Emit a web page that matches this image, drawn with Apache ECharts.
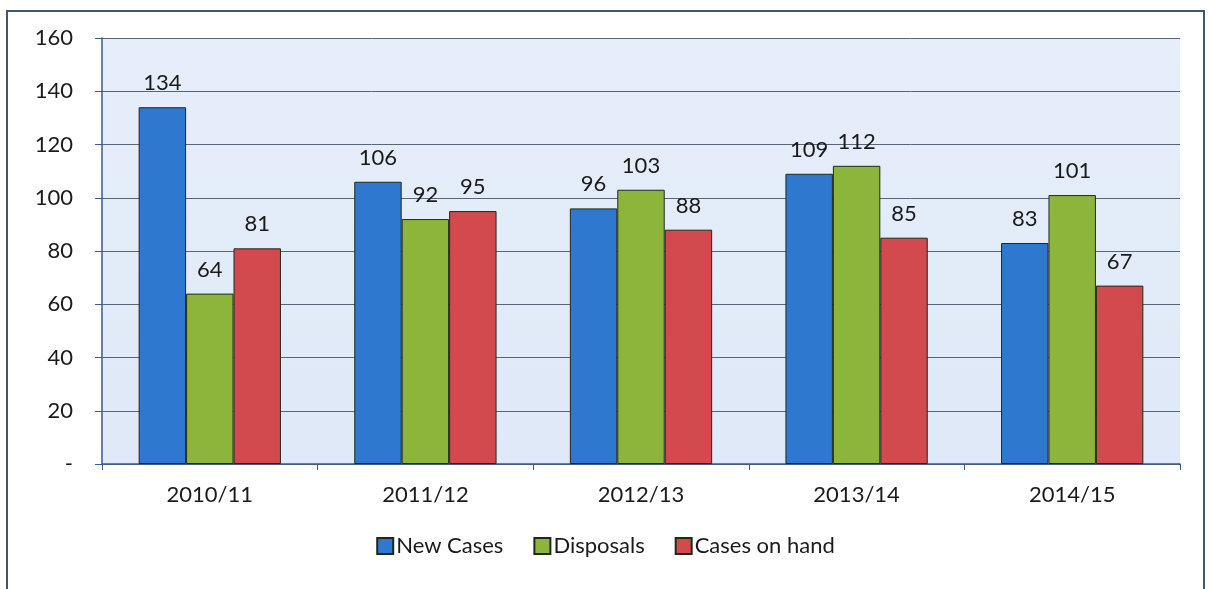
<!DOCTYPE html>
<html>
<head>
<meta charset="utf-8">
<script src="https://cdn.jsdelivr.net/npm/echarts@6/dist/echarts.min.js"></script>
<style>
  html, body { margin: 0; padding: 0; background: #fff; }
  #chart { width: 1211px; height: 589px; }
</style>
</head>
<body>
<div id="chart"></div>
<script>
// data
const years = ['2010/11', '2011/12', '2012/13', '2013/14', '2014/15'];
const newCases = [134, 106, 96, 109, 83];
const disposals = [64, 92, 103, 112, 101];
const casesOnHand = [81, 95, 88, 85, 67];
const seriesNames = ['New Cases', 'Disposals', 'Cases on hand'];
const seriesColors = ['#2f78d0', '#8db53c', '#d34a4e'];

const chart = echarts.init(document.getElementById('chart'));

const font = 'Lato, "Open Sans", sans-serif';

function barSeries(name, data, color) {
    return {
        name: name,
        type: 'bar',
        data: data,
        barGap: '0%',
        barCategoryGap: '34%',
        itemStyle: {
            color: color,
            borderColor: '#1d2a1a',
            borderWidth: 1
        },
        label: {
            show: true,
            position: 'top',
            distance: 13,
            color: '#1a1a1a',
            fontSize: 22,
            fontFamily: font
        }
    };
}

const option = {
    backgroundColor: '#ffffff',
    animation: false,
    graphic: [{
        type: 'rect',
        shape: {x: 7, y: 11, width: 1197, height: 600},
        style: {fill: 'none', stroke: '#44566e', lineWidth: 2},
        z: -1
    }],
    grid: {
        left: 102,
        right: 31,
        top: 38,
        bottom: 125,
        show: true,
        backgroundColor: new echarts.graphic.LinearGradient(0, 0, 0, 1, [
            {offset: 0, color: '#e6eefa'},
            {offset: 1, color: '#dfe9f7'}
        ]),
        borderWidth: 0
    },
    legend: {
        data: seriesNames,
        bottom: 27,
        left: 'center',
        itemWidth: 16,
        itemHeight: 16,
        itemGap: 30,
        icon: 'rect',
        textStyle: {fontSize: 22, color: '#1a1a1a', fontFamily: font, padding: [0, 0, 0, -2]}
    },
    xAxis: {
        type: 'category',
        data: years,
        axisLine: {lineStyle: {color: '#3d5a86', width: 1.5}},
        axisTick: {show: true, length: 6, lineStyle: {color: '#3d5a86'}},
        axisLabel: {fontSize: 22, color: '#1a1a1a', fontFamily: font, margin: 20}
    },
    yAxis: {
        type: 'value',
        min: 0,
        max: 160,
        interval: 20,
        axisLine: {show: true, lineStyle: {color: '#3d5a86', width: 1.5}},
        axisTick: {show: true, length: 7, lineStyle: {color: '#3d5a86'}},
        splitLine: {lineStyle: {color: '#55657a', width: 1}},
        axisLabel: {
            fontSize: 22,
            color: '#1a1a1a',
            fontFamily: font,
            margin: 29,
            formatter: v => v === 0 ? '-' : v
        }
    },
    series: [
        barSeries(seriesNames[0], newCases, seriesColors[0]),
        barSeries(seriesNames[1], disposals, seriesColors[1]),
        barSeries(seriesNames[2], casesOnHand, seriesColors[2])
    ]
};

chart.setOption(option);
</script>
</body>
</html>
